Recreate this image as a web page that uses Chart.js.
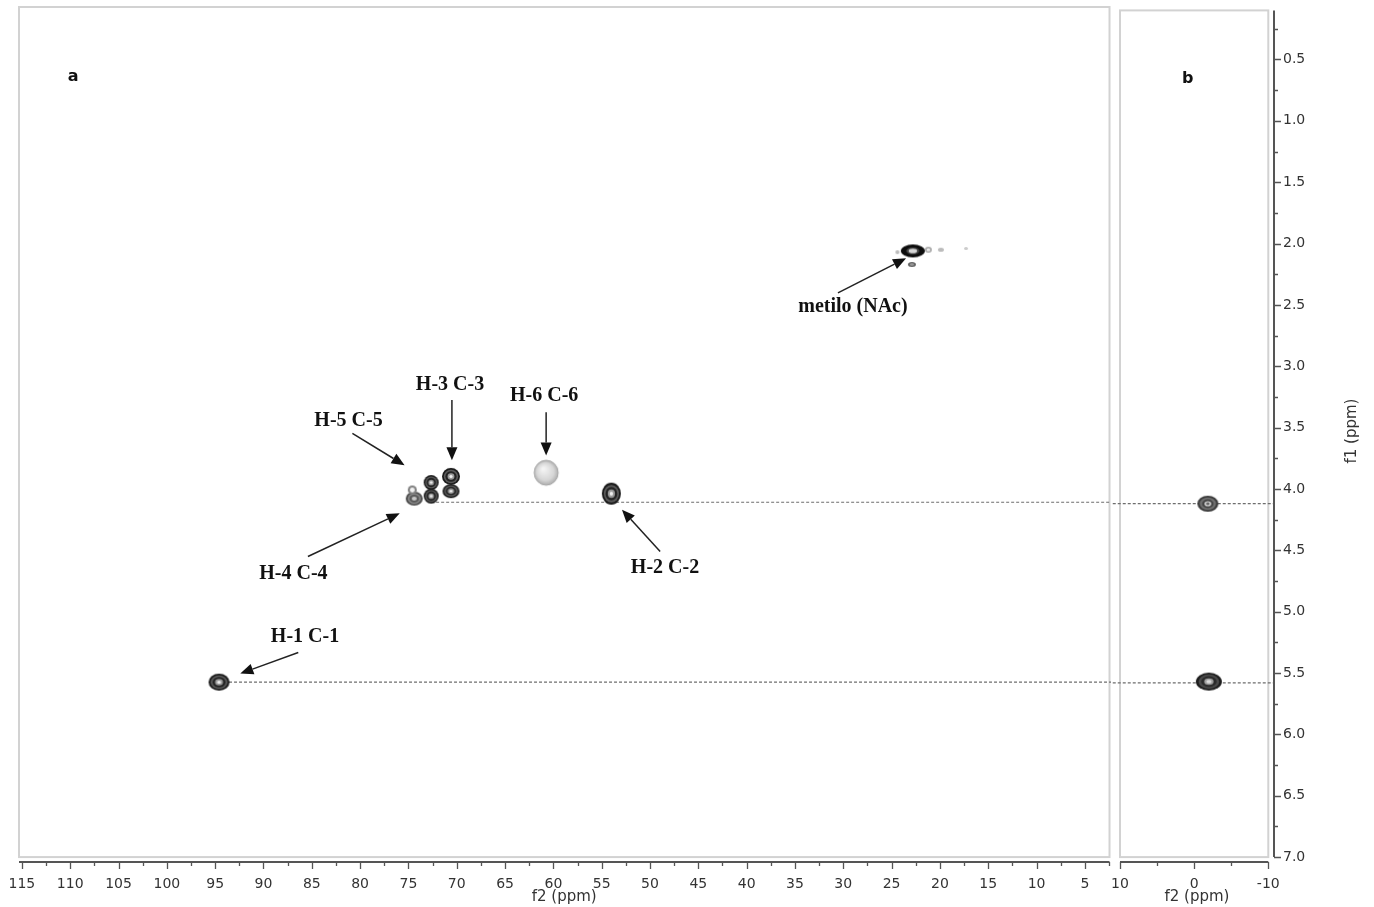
<!DOCTYPE html>
<html>
<head>
<meta charset="utf-8">
<title>HSQC</title>
<script src="https://cdn.jsdelivr.net/npm/chart.js@4.4.1/dist/chart.umd.min.js"></script>
<style>
  html, body { margin: 0; padding: 0; background: #fff; }
  #wrap { position: relative; width: 1374px; height: 907px; overflow: hidden; background: #fff; }
  #chartA { position: absolute; left: 0; top: 0; }
  #chartB { position: absolute; left: 1111px; top: 0; }
</style>
</head>
<body>
<div id="wrap">
  <canvas id="chartA" width="1111" height="907"></canvas>
  <canvas id="chartB" width="263" height="907"></canvas>
</div>
<script>
// PANEL a - cross peaks (f2 = 13C ppm, f1 = 1H ppm)
const peakF2 = [94.6, 74.4, 74.6, 72.65, 72.65, 70.6, 70.6, 60.75, 54.0, 22.8];
const peakF1 = [5.58, 4.09, 4.02, 3.96, 4.07, 3.91, 4.03, 3.88, 4.05, 2.08];
// weak signals next to the methyl
const weakF2 = [24.4, 22.9, 21.2, 19.9, 17.3];
const weakF1 = [2.09, 2.19, 2.07, 2.07, 2.06];

// PANEL b - cross peaks
const peakF2b = [-1.85, -1.98];
const peakF1b = [4.12, 5.57];

// dashed correlation lines (f1) and where they start in panel a (f2)
const lineF1 = [4.12, 5.58];
const lineStartF2 = [72.65, 94.6];

// ANNOTATIONS
const annText = ['H-1 C-1', 'H-4 C-4', 'H-5 C-5', 'H-3 C-3', 'H-6 C-6', 'H-2 C-2', 'metilo (NAc)'];
const annF2 = [85.7, 86.9, 81.2, 70.7, 60.95, 48.45, 29.0];
const annF1 = [5.21, 4.70, 3.46, 3.17, 3.26, 4.65, 2.53];
const arrowFromF2 = [86.4, 85.4, 80.8, 70.5, 60.75, 48.95, 30.55];
const arrowFromF1 = [5.34, 4.56, 3.56, 3.29, 3.39, 4.52, 2.42];
const arrowToF2 = [92.4, 75.9, 75.4, 70.5, 60.75, 52.9, 23.5];
const arrowToF1 = [5.51, 4.21, 3.82, 3.78, 3.74, 4.18, 2.14];

// TICKS
const f2TicksA = [115, 110, 105, 100, 95, 90, 85, 80, 75, 70, 65, 60, 55, 50, 45, 40, 35, 30, 25, 20, 15, 10, 5];
const f2TicksB = [10, 0, -10];
const f1Ticks = [0.5, 1.0, 1.5, 2.0, 2.5, 3.0, 3.5, 4.0, 4.5, 5.0, 5.5, 6.0, 6.5, 7.0];

const F1_MIN = 0.1, F1_MAX = 7.04;
const TICK_FONT = { family: 'DejaVu Sans', size: 14 };
const TITLE_FONT = { family: 'DejaVu Sans', size: 15 };
const AXIS_COLOR = '#555';
const TEXT_COLOR = '#333';

// major + minor ticks (minor halfway between majors)
function tickList(majors, half, lo, hi) {
  return majors.concat(majors.map(v => v - half))
    .filter(v => v >= lo && v <= hi)
    .sort((a, b) => a - b)
    .map(v => ({ value: v }));
}

// contour-looking peak sprites
function blob(w, h, layers) {
  const c = document.createElement('canvas');
  c.width = w + 4; c.height = h + 4;
  const g = c.getContext('2d');
  g.filter = 'blur(0.6px)';
  layers.forEach(([s, col]) => {
    g.beginPath();
    g.ellipse(c.width / 2, c.height / 2, w / 2 * s, h / 2 * s, 0, 0, Math.PI * 2);
    g.fillStyle = col;
    g.fill();
  });
  return c;
}
function softBall(w, h) {
  const c = document.createElement('canvas');
  c.width = w + 4; c.height = h + 4;
  const g = c.getContext('2d');
  const cx = c.width / 2, cy = c.height / 2;
  const grad = g.createRadialGradient(cx - 3, cy - 4, 1, cx, cy, w / 2);
  grad.addColorStop(0, '#f4f4f4');
  grad.addColorStop(0.7, '#d6d6d6');
  grad.addColorStop(1, '#b0b0b0');
  g.filter = 'blur(0.4px)';
  g.beginPath();
  g.ellipse(cx, cy, w / 2, h / 2, 0, 0, Math.PI * 2);
  g.fillStyle = grad;
  g.fill();
  g.strokeStyle = '#a8a8a8';
  g.lineWidth = 1;
  g.stroke();
  return c;
}

const DARK = [[1, '#1a1a1a'], [0.8, '#5c5c5c'], [0.62, '#222'], [0.38, '#9a9a9a'], [0.18, '#f0f0f0']];
const MEDIUM = [[1, '#4a4a4a'], [0.78, '#8a8a8a'], [0.58, '#5a5a5a'], [0.3, '#c8c8c8']];
const HEAVY = [[1, '#0d0d0d'], [0.55, '#444'], [0.35, '#d8d8d8']];

const spritesA = [
  blob(21, 17, DARK),                        // H-1
  blob(17, 14, MEDIUM),                      // H-4
  blob(9, 9, [[1, '#808080'], [0.55, '#f2f2f2']]), // H-5
  blob(15, 15, DARK),
  blob(15, 15, DARK),
  blob(18, 17, DARK),                        // H-3
  blob(17, 14, DARK),
  softBall(24, 25),                          // H-6
  blob(19, 22, DARK),                        // H-2
  blob(24, 13, HEAVY)                        // methyl
];
const spritesWeak = [
  blob(4, 4, [[1, '#bbb']]),
  blob(8, 5, [[1, '#666'], [0.5, '#999']]),
  blob(7, 6, [[1, '#aaa'], [0.5, '#eee']]),
  blob(6, 4, [[1, '#bbb']]),
  blob(4, 3, [[1, '#ccc']])
];
const spritesB = [
  blob(21, 16, [[1, '#3a3a3a'], [0.78, '#707070'], [0.55, '#444'], [0.32, '#e0e0e0'], [0.18, '#666']]),
  blob(26, 18, [[1, '#1c1c1c'], [0.8, '#4a4a4a'], [0.6, '#2a2a2a'], [0.36, '#a0a0a0'], [0.2, '#ddd']])
];

const toPoints = (xs, ys) => xs.map((v, i) => ({ x: v, y: ys[i] }));

function drawArrow(ctx, x0, y0, x1, y1) {
  const ang = Math.atan2(y1 - y0, x1 - x0);
  const len = 13, half = 5.5;
  const bx = x1 - len * Math.cos(ang), by = y1 - len * Math.sin(ang);
  ctx.beginPath();
  ctx.moveTo(x0, y0);
  ctx.lineTo(bx, by);
  ctx.strokeStyle = '#222';
  ctx.lineWidth = 1.5;
  ctx.stroke();
  ctx.beginPath();
  ctx.moveTo(x1, y1);
  ctx.lineTo(bx + half * Math.sin(ang), by - half * Math.cos(ang));
  ctx.lineTo(bx - half * Math.sin(ang), by + half * Math.cos(ang));
  ctx.closePath();
  ctx.fillStyle = '#111';
  ctx.fill();
}

// light grey box around each panel
function frameBox(f2Left, f2Right) {
  return {
    id: 'frameBox',
    beforeDatasetsDraw(chart) {
      const { ctx, scales: { x, y } } = chart;
      const l = x.getPixelForValue(f2Left), r = x.getPixelForValue(f2Right);
      const t = y.getPixelForValue(F1_MIN), b = y.getPixelForValue(7.0);
      ctx.save();
      ctx.strokeStyle = '#d2d2d2';
      ctx.lineWidth = 2;
      ctx.strokeRect(l, t, r - l, b - t);
      ctx.restore();
    }
  };
}

// axis lines + long/short tick marks
function axisDrawer(xMajors, xFrom, xTo, yMajors) {
  return {
    id: 'axisDrawer',
    afterDraw(chart) {
      const { ctx, chartArea, scales: { x, y } } = chart;
      ctx.save();
      ctx.strokeStyle = AXIS_COLOR;
      ctx.lineWidth = 2;
      ctx.beginPath();
      ctx.moveTo(x.getPixelForValue(xFrom), chartArea.bottom);
      ctx.lineTo(x.getPixelForValue(xTo), chartArea.bottom);
      if (yMajors) {
        ctx.moveTo(chartArea.right, y.getPixelForValue(F1_MIN));
        ctx.lineTo(chartArea.right, y.getPixelForValue(7.0));
      }
      ctx.stroke();
      ctx.lineWidth = 1.3;
      ctx.beginPath();
      x.ticks.forEach(t => {
        const px = Math.round(x.getPixelForValue(t.value)) + 0.5;
        ctx.moveTo(px, chartArea.bottom);
        ctx.lineTo(px, chartArea.bottom + (xMajors.includes(t.value) ? 7 : 4));
      });
      if (yMajors) {
        y.ticks.forEach(t => {
          const py = Math.round(y.getPixelForValue(t.value)) + 0.5;
          ctx.moveTo(chartArea.right, py);
          ctx.lineTo(chartArea.right + (yMajors.includes(t.value) ? 7 : 4), py);
        });
      }
      ctx.stroke();
      ctx.restore();
    }
  };
}

const annotateA = {
  id: 'annotateA',
  afterDatasetsDraw(chart) {
    const { ctx, scales: { x, y } } = chart;
    ctx.save();
    for (let i = 0; i < annText.length; i++) {
      drawArrow(ctx,
        x.getPixelForValue(arrowFromF2[i]), y.getPixelForValue(arrowFromF1[i]),
        x.getPixelForValue(arrowToF2[i]), y.getPixelForValue(arrowToF1[i]));
      ctx.font = 'bold 20px "Liberation Serif"';
      ctx.fillStyle = '#111';
      ctx.textAlign = 'center';
      ctx.textBaseline = 'middle';
      ctx.fillText(annText[i], x.getPixelForValue(annF2[i]), y.getPixelForValue(annF1[i]));
    }
    ctx.font = 'bold 16px "DejaVu Sans"';
    ctx.fillText('a', x.getPixelForValue(109.7), y.getPixelForValue(0.665));
    ctx.restore();
  }
};

const decorB = {
  id: 'decorB',
  afterDraw(chart) {
    const { ctx, chartArea, scales: { x, y } } = chart;
    ctx.save();
    ctx.fillStyle = '#111';
    ctx.textAlign = 'center';
    ctx.textBaseline = 'middle';
    ctx.font = 'bold 16px "DejaVu Sans"';
    ctx.fillText('b', x.getPixelForValue(0.85), y.getPixelForValue(0.657));

    ctx.translate(chartArea.right + 78, 431);
    ctx.rotate(-Math.PI / 2);
    ctx.fillStyle = TEXT_COLOR;
    ctx.font = '15px "DejaVu Sans"';
    ctx.fillText('f1 (ppm)', 0, 0);
    ctx.restore();
  }
};

function xScale(min, max, majors, half) {
  return {
    type: 'linear', reverse: true, min: min, max: max,
    afterBuildTicks: s => { s.ticks = tickList(majors, half, min, max); },
    afterFit: s => { s.height = 45; },
    ticks: {
      autoSkip: false, maxRotation: 0, padding: 7, color: TEXT_COLOR, font: TICK_FONT,
      callback: v => majors.includes(v) ? String(v) : ''
    },
    grid: { display: false, drawTicks: true, tickLength: 7 },
    border: { display: false },
    title: { display: true, text: 'f2 (ppm)', color: TEXT_COLOR, font: TITLE_FONT, padding: { top: 0, bottom: 1 } }
  };
}

const common = {
  responsive: false,
  animation: false,
  events: [],
  plugins: { legend: { display: false }, tooltip: { enabled: false } }
};

const dashed = (xs, f1) => ({
  data: toPoints(xs, [f1, f1]),
  showLine: true, borderColor: '#6e6e6e', borderWidth: 1.2, borderDash: [3, 2],
  pointRadius: 0, clip: false, order: 3
});

// PANEL a
new Chart(document.getElementById('chartA').getContext('2d'), {
  type: 'scatter',
  data: {
    datasets: [
      dashed([lineStartF2[0], -2], lineF1[0]),
      dashed([lineStartF2[1], -2], lineF1[1]),
      { data: toPoints(weakF2, weakF1), pointStyle: spritesWeak, pointRadius: 4, order: 2 },
      { data: toPoints(peakF2, peakF1), pointStyle: spritesA, pointRadius: 8, order: 1 }
    ]
  },
  options: Object.assign({}, common, {
    layout: { autoPadding: false, padding: { left: 19, right: 1.5, top: 7, bottom: 0 } },
    scales: {
      x: xScale(2.45, 115.3, f2TicksA, 2.5),
      y: { type: 'linear', reverse: true, min: F1_MIN, max: F1_MAX, display: false }
    }
  }),
  plugins: [frameBox(115.3, 2.45), axisDrawer(f2TicksA, 115.3, 2.45, null), annotateA]
});

// PANEL b
new Chart(document.getElementById('chartB').getContext('2d'), {
  type: 'scatter',
  data: {
    datasets: [
      dashed([13, -10.77], lineF1[0]),
      dashed([13, -10.77], lineF1[1]),
      { data: toPoints(peakF2b, peakF1b), pointStyle: spritesB, pointRadius: 8, order: 1 }
    ]
  },
  options: Object.assign({}, common, {
    layout: { autoPadding: false, padding: { left: 9, right: 0, top: 7, bottom: 0 } },
    scales: {
      x: xScale(-10.77, 10, f2TicksB, 5),
      y: {
        type: 'linear', reverse: true, min: F1_MIN, max: F1_MAX, position: 'right',
        afterBuildTicks: s => { s.ticks = tickList(f1Ticks, 0.25, F1_MIN, F1_MAX); },
        afterFit: s => { s.width = 100; },
        ticks: {
          autoSkip: false, padding: 2, color: TEXT_COLOR, font: TICK_FONT,
          callback: v => f1Ticks.includes(v) ? v.toFixed(1) : ''
        },
        grid: { display: false, drawTicks: true, tickLength: 7 },
        border: { display: false }
      }
    }
  }),
  plugins: [frameBox(10, -10), axisDrawer(f2TicksB, 10, -10, f1Ticks), decorB]
});
</script>
</body>
</html>
